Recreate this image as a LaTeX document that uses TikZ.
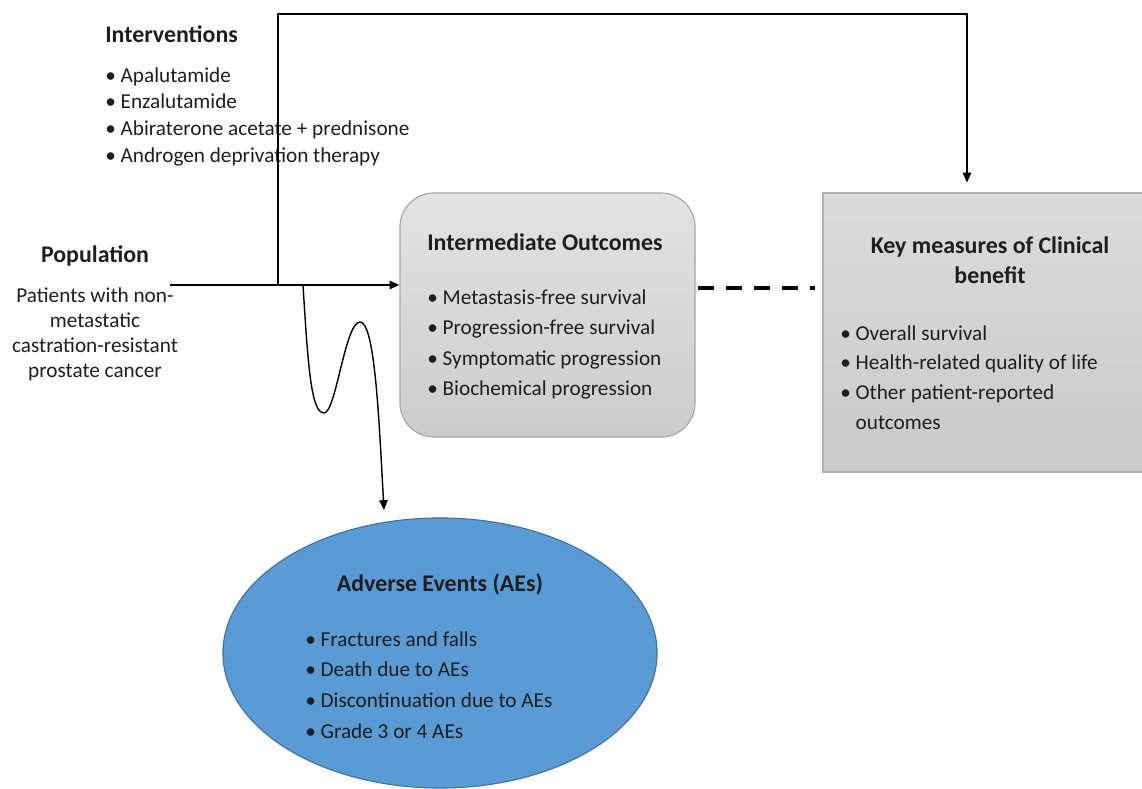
\documentclass[tikz,border=0pt]{standalone}
\usepackage{fontspec}
\setmainfont{Carlito}
\usepackage{xcolor}
\usetikzlibrary{arrows.meta,shapes.geometric,positioning}
\definecolor{boxedge}{RGB}{166,166,166}
\definecolor{aeblue}{RGB}{91,155,213}
\definecolor{aeedge}{RGB}{65,113,156}
\definecolor{inktext}{RGB}{30,30,30}

\begin{document}
\begin{tikzpicture}[
  x=0.025cm, y=-0.025cm,
  % ── text styles ──────────────────────────────────────────────────────────
  head/.style={
    font=\fontsize{17}{21.5}\selectfont\bfseries,
    text=inktext, inner sep=0pt
  },
  items/.style={
    font=\fontsize{15.1}{#1}\selectfont,
    text=inktext, inner sep=0pt, align=left
  },
  % ── shapes ───────────────────────────────────────────────────────────────
  midbox/.style={
    draw=boxedge, line width=0.8pt, rectangle, rounded corners=0.85cm,
    top color=gray!22, bottom color=gray!40,
    minimum width=7.375cm, minimum height=6.1cm
  },
  keybox/.style={
    draw=boxedge!90, line width=0.8pt, rectangle,
    top color=gray!28, bottom color=gray!42,
    minimum width=8cm, minimum height=6.975cm
  },
  aebubble/.style={
    draw=aeedge, line width=0.8pt, ellipse, fill=aeblue,
    inner sep=0pt, minimum width=10.85cm, minimum height=6.75cm
  },
  % ── connectors ───────────────────────────────────────────────────────────
  link/.style={
    draw=black, line width=1pt,
    -{Triangle[length=7pt,width=6pt]}
  },
  dashlink/.style={
    draw=black, line width=2.4pt, dash pattern=on 11.5pt off 8.5pt
  },
]

\useasboundingbox (0,0) rectangle (1142,788);

% ── Boxes ─────────────────────────────────────────────────────────────────
\node[midbox]   (imo) at (547.5,315)  {};
\node[keybox]   (key) at (983,332.5)  {};
\node[aebubble] (ae)  at (440,653)    {};

% ── Interventions ─────────────────────────────────────────────────────────
\node[head, anchor=west] (intvhead) at (105,34) {Interventions};
\node[items=19pt, anchor=north west] (intvlist) at (105,67)
  {\textbullet\ Apalutamide\\
   \textbullet\ Enzalutamide\\
   \textbullet\ Abiraterone acetate + prednisone\\
   \textbullet\ Androgen deprivation therapy};

% ── Population ────────────────────────────────────────────────────────────
\node[head] (pophead) at (95,256) {Population};
\node[items=18pt, align=center, anchor=north] (poptext) at (95,287)
  {Patients with non-\\metastatic\\castration-resistant\\prostate cancer};

% ── Intermediate outcomes ─────────────────────────────────────────────────
\node[head] (imohead) at (545,242) {Intermediate Outcomes};
\node[items=21.8pt, anchor=north west] (imolist) at (427,289)
  {\textbullet\ Metastasis-free survival\\
   \textbullet\ Progression-free survival\\
   \textbullet\ Symptomatic progression\\
   \textbullet\ Biochemical progression};

% ── Key measures ──────────────────────────────────────────────────────────
\node[head, align=center, anchor=north] (keyhead) at (990,236)
  {Key measures of Clinical\\benefit};
\node[items=21.3pt, anchor=north west] (keylist) at (840,325)
  {\textbullet\ Overall survival\\
   \textbullet\ Health-related quality of life\\
   \textbullet\ Other patient-reported\\
   \phantom{\textbullet\ }outcomes};

% ── Adverse events ────────────────────────────────────────────────────────
\node[head] (aehead) at (440,584) {Adverse Events (AEs)};
\node[items=22pt, anchor=north west] (aelist) at (305,631)
  {\textbullet\ Fractures and falls\\
   \textbullet\ Death due to AEs\\
   \textbullet\ Discontinuation due to AEs\\
   \textbullet\ Grade 3 or 4 AEs};

% ── Connectors ────────────────────────────────────────────────────────────
\coordinate (popout) at (170,285);
\coordinate (split)  at (278,285);
\coordinate (wave)   at (303,285);
\coordinate (elbow)  at (967,14);
\coordinate (aein)   at (384,510);
\coordinate (dashy)  at (0,288);

\draw[link] (popout) -- (imo.west |- popout);
\draw[link, shorten >=7pt] (split) |- (elbow) -- (elbow |- key.north);
\draw[link] (wave) .. controls (308,365) and (311,413) .. (324,413)
  .. controls (336,413) and (345,322) .. (360,322)
  .. controls (375,322) and (379,420) .. (aein);
\draw[dashlink, shorten <=1.5pt, shorten >=5pt] (imo.east |- dashy) -- (key.west |- dashy);

\end{tikzpicture}
\end{document}
